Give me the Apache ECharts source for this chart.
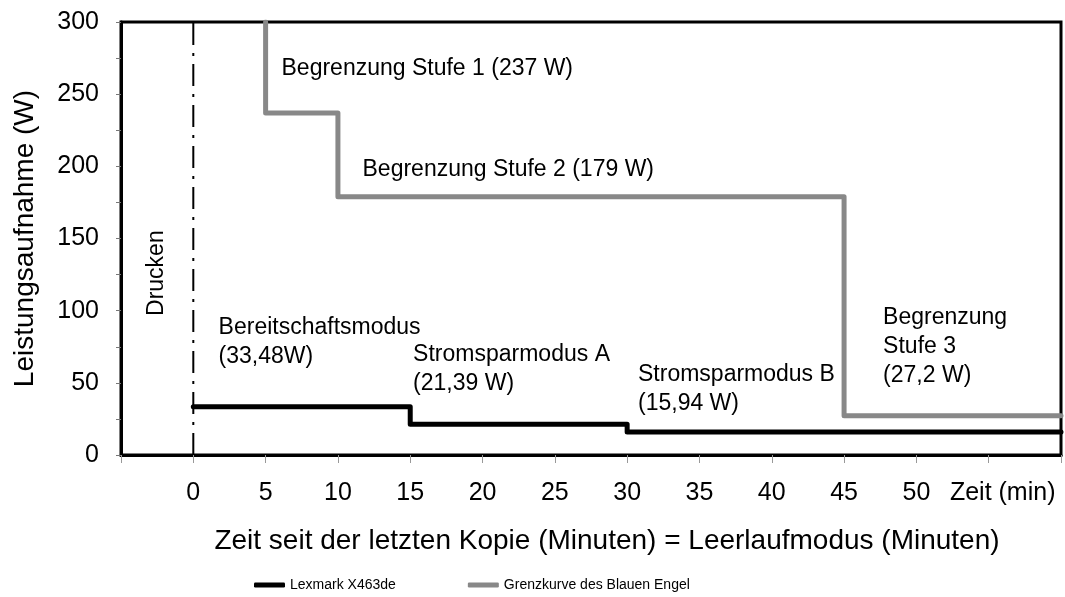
<!DOCTYPE html>
<html>
<head>
<meta charset="utf-8">
<script src="https://cdn.jsdelivr.net/npm/echarts@6/dist/echarts.min.js"></script>
<style>html,body{margin:0;padding:0;background:#fff}#c{width:1065px;height:597px}</style>
</head>
<body>
<div id="c"></div>
<script>
// Data
const lexmarkTimes = [0, 15, 30, 60];
const lexmarkPower = [33.48, 21.39, 15.94, 15.94];
const grenzTimes = [5, 5, 10, 45, 60];
const grenzPower = [300, 237, 179, 27.2, 27.2];
const druckenTimes = [0, 0];
const druckenPower = [0, 300];
const xTickLabels = ['0','5','10','15','20','25','30','35','40','45','50','Zeit (min)'];
const xTickValues = [0,5,10,15,20,25,30,35,40,45,50,55];
const seriesNames = ['Lexmark X463de', 'Grenzkurve des Blauen Engel'];
// annotation texts with their anchor (data coordinates)
const annotTexts = ['Begrenzung Stufe 1 (237 W)', 'Begrenzung Stufe 2 (179 W)', 'Bereitschaftsmodus\n(33,48W)', 'Stromsparmodus A\n(21,39 W)', 'Stromsparmodus B\n(15,94 W)', 'Begrenzung\nStufe 3\n(27,2 W)'];
const annotX = [6.1, 11.7, 1.75, 15.2, 30.75, 47.7];
const annotY = [268, 197.5, 78, 59.2, 45.7, 74.8];
const druckenLabel = 'Drucken';
const druckenLabelX = -2.5;
const druckenLabelY = 126;

const font = 'Liberation Sans, Arial, sans-serif';
const zip = (a, b) => a.map((v, i) => [v, b[i]]);

const chart = echarts.init(document.getElementById('c'), null, {renderer: 'canvas'});
chart.setOption({
  animation: false,
  backgroundColor: '#fff',
  textStyle: {fontFamily: font, color: '#000'},
  grid: {left: 121, right: 4, top: 22, bottom: 142, show: true, borderColor: '#000', borderWidth: 3,
    containLabel: false, outerBoundsMode: 'none'},
  xAxis: {
    type: 'value', min: -5, max: 60, interval: 5,
    name: 'Zeit seit der letzten Kopie (Minuten) = Leerlaufmodus (Minuten)',
    nameLocation: 'middle', nameGap: 72,
    nameTextStyle: {fontSize: 28, color: '#000', fontFamily: font, padding: [0, 0, 0, 32]},
    axisLine: {show: true, onZero: false, lineStyle: {color: '#000', width: 3}},
    axisTick: {show: true, length: 8, lineStyle: {color: '#999', width: 1}},
    splitLine: {show: false},
    axisLabel: {
      fontSize: 25, color: '#000', margin: 26, fontFamily: font,
      showMinLabel: true, showMaxLabel: true,
      formatter: v => {
        const i = xTickValues.indexOf(v);
        if (i < 0) return '';
        if (v === 55) return '{z|' + xTickLabels[i] + '}';
        return xTickLabels[i];
      },
      rich: {z: {fontSize: 25, fontFamily: font, color: '#000', padding: [0, 0, 0, 28]}}
    }
  },
  yAxis: {
    type: 'value', min: 0, max: 300, interval: 25,
    name: 'Leistungsaufnahme (W)', nameLocation: 'middle', nameGap: 82,
    nameTextStyle: {fontSize: 28, color: '#000', fontFamily: font},
    axisLine: {show: true, onZero: false, lineStyle: {color: '#000', width: 3}},
    axisTick: {show: true, length: 5, lineStyle: {color: '#777', width: 1}},
    splitLine: {show: false},
    axisLabel: {fontSize: 25, color: '#000', margin: 22, fontFamily: font,
      formatter: v => (v % 50 === 0 ? String(v) : '')}
  },
  legend: {
    data: seriesNames, left: 249, top: 573, itemGap: 72, itemWidth: 31, itemHeight: 5,
    icon: 'roundRect', textStyle: {fontSize: 14, color: '#000', fontFamily: font}
  },
  series: [
    {
      name: seriesNames[0], type: 'line', step: 'end', showSymbol: false, symbol: 'none',
      data: zip(lexmarkTimes, lexmarkPower), z: 5,
      lineStyle: {color: '#000', width: 5, cap: 'round', join: 'round'}, itemStyle: {color: '#000'}
    },
    {
      name: seriesNames[1], type: 'line', step: 'end', showSymbol: false, symbol: 'none',
      data: zip(grenzTimes, grenzPower), z: 4,
      lineStyle: {color: '#888', width: 5, cap: 'round', join: 'round'}, itemStyle: {color: '#888'}
    },
    {
      name: 'Drucken', type: 'line', showSymbol: false, symbol: 'none', silent: true,
      data: zip(druckenTimes, druckenPower), z: 3,
      lineStyle: {color: '#000', width: 2, type: [22, 8, 3, 8]}
    },
    {
      name: 'annot', type: 'scatter', symbolSize: 0, silent: true, z: 6,
      itemStyle: {opacity: 1},
      data: zip(annotX, annotY).map((p, i) => ({value: p, label: {formatter: annotTexts[i]}})),
      label: {show: true, position: 'right', distance: 0, align: 'left', verticalAlign: 'middle',
        fontSize: 23, lineHeight: 29, color: '#000', fontFamily: font}
    },
    {
      name: 'drucken', type: 'scatter', symbolSize: 0, silent: true, z: 6,
      itemStyle: {opacity: 1},
      data: [[druckenLabelX, druckenLabelY]],
      label: {show: true, position: 'inside', rotate: 90, formatter: druckenLabel,
        fontSize: 23, color: '#000', fontFamily: font}
    }
  ]
});
</script>
</body>
</html>
